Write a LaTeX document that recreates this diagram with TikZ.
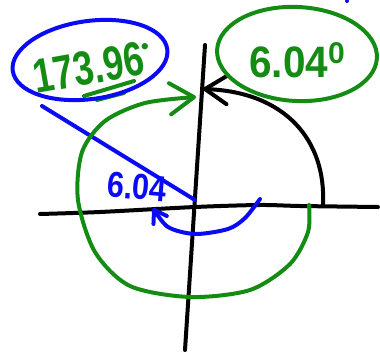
\documentclass[tikz,border=0pt]{standalone}
\usepackage{fontspec}
\setmainfont{Liberation Sans}
\usetikzlibrary{arrows.meta}
\definecolor{pgreen}{RGB}{20,140,20}
\definecolor{pblue}{RGB}{10,10,245}
\tikzset{
  pen/.style={line width=4pt, line cap=round, line join=round},
  barb/.style={-{Straight Barb[length=#1, width=1.3*#1, line width=4pt, round]}},
}
\begin{document}
\begin{tikzpicture}[x=1pt,y=-1pt]
\useasboundingbox (0,0) rectangle (380,352);
% axes
\draw[pen,black] plot[smooth] coordinates {(40,214) (100,212) (195,207) (260,205) (300,206) (378,207)};
\coordinate (vtop) at (205,45);
\coordinate (vbot) at (185,350);
\draw[pen,black] (vtop) -- (vbot);
% black arc with arrow
\coordinate (arcs) at (323,204);
\coordinate (arce) at (203,89);
\draw[pen,black,barb=22pt] (arcs) .. controls (326,140) and (285,92) .. (arce);
% green ellipse and text
\node[pgreen, font=\fontsize{44}{44}\selectfont\bfseries, inner sep=0pt] (g) at (297,60) {\scalebox{0.92}[1]{6.04}\raisebox{0.6ex}{\fontsize{30}{30}\selectfont\bfseries 0}};
\draw[pen,pgreen,rotate around={-3:(297,54)}] (297,54) ellipse [x radius=80pt, y radius=47pt];
% blue ellipse and text
\node[pgreen, font=\fontsize{48}{48}\selectfont\bfseries, inner sep=0pt, rotate=10] (b) at (92,67) {\scalebox{0.76}[1]{173.96}\raisebox{0.8ex}{\fontsize{22}{22}\selectfont\textbullet}};
\draw[pen,pgreen] (84,96) -- (134,81);
\draw[pen,pgreen] (97,100) -- (124,93);
\draw[pen,pblue,rotate around={8:(90,60)}] (90,60) ellipse [x radius=78pt, y radius=39pt];
% blue line from ellipse to origin
\coordinate (bl1) at (42,106);
\coordinate (orig) at (195,200);
\draw[pen,pblue] (bl1) -- (orig);
% green big arc with arrow
\draw[pen,pgreen,barb=24pt] plot[smooth] coordinates {(309,205) (308,232) (290,264) (250,290) (190,297) (130,286) (95,252) (78,200) (82,152) (105,121) (145,103) (196,97)};
% blue small arc with arrow
\draw[pen,pblue,barb=12pt] plot[smooth] coordinates {(260,199) (245,218) (228,229) (195,234) (168,227) (153,208)};
\node[pblue, font=\fontsize{36}{36}\selectfont\bfseries, inner sep=0pt, rotate=-5] (s) at (137,187) {\scalebox{0.85}[1]{6.04}};
% blue dot
\fill[pblue] (347,1) circle (2pt);
\end{tikzpicture}
\end{document}
